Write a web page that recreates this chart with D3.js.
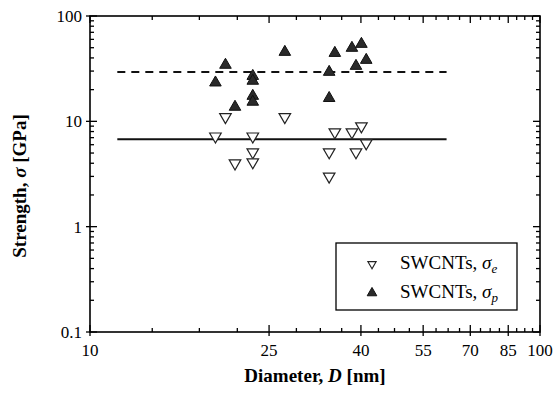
<!DOCTYPE html>
<html>
<head>
<meta charset="utf-8">
<script src="https://cdn.jsdelivr.net/npm/d3@7"></script>
<style>
  body { margin: 0; background: #fff; }
  svg { font-family: "Liberation Serif", "Times New Roman", serif; }
</style>
</head>
<body>
<svg id="chart" width="554" height="394"></svg>
<script>
// sigma_p (filled triangles)
const diamP = [19.0, 20.0, 21.0, 23.0, 23.0, 23.0, 23.0, 27.1, 34.0, 34.0, 35.0, 38.2, 39.0, 40.1, 41.1];
const strengthP = [23.3, 34.3, 13.7, 26.9, 24.2, 17.4, 15.3, 45.5, 29.4, 16.6, 44.5, 49.7, 33.5, 54.2, 38.2];
// sigma_e (open triangles)
const diamE = [19.0, 20.0, 21.0, 23.0, 23.0, 23.0, 27.1, 34.0, 34.0, 35.0, 38.2, 39.0, 40.1, 41.1];
const strengthE = [7.2, 11.0, 4.0, 7.2, 5.1, 4.1, 11.0, 5.1, 3.0, 7.9, 7.9, 5.1, 9.0, 6.2];
// average lines
const meanP = 29.4;
const meanE = 6.75;
const meanRange = [11.5, 62];

const xTicks = [10, 25, 40, 55, 70, 85, 100];
const yTicks = [0.1, 1, 10, 100];
const yTickLabels = ["0.1", "1", "10", "100"];

const margin = {left: 90, top: 16, right: 14, bottom: 62};
const width = 554 - margin.left - margin.right;
const height = 394 - margin.top - margin.bottom;

const svg = d3.select("#chart");
const g = svg.append("g").attr("transform", `translate(${margin.left},${margin.top})`);

const x = d3.scaleLog().domain([10, 100]).range([0, width]);
const y = d3.scaleLog().domain([0.1, 100]).range([height, 0]);

// minor ticks: x every quarter between majors, y 2..9 per decade
const xMinor = [];
for (let i = 0; i < xTicks.length - 1; i++) {
    const step = (xTicks[i + 1] - xTicks[i]) / 4;
    for (let k = 1; k < 4; k++) xMinor.push(xTicks[i] + k * step);
}
const yMinor = [];
[0.1, 1, 10].forEach(dec => { for (let k = 2; k < 10; k++) yMinor.push(dec * k); });

// frame
g.append("rect").attr("width", width).attr("height", height)
    .attr("fill", "none").attr("stroke", "#000").attr("stroke-width", 1.6);

const tickG = g.append("g").attr("stroke", "#000").attr("stroke-width", 1.3);
xTicks.forEach(v => {
    tickG.append("line").attr("x1", x(v)).attr("x2", x(v)).attr("y1", height + 4).attr("y2", height - 7);
    tickG.append("line").attr("x1", x(v)).attr("x2", x(v)).attr("y1", 0).attr("y2", 7);
});
xMinor.forEach(v => {
    tickG.append("line").attr("x1", x(v)).attr("x2", x(v)).attr("y1", height).attr("y2", height - 4);
    tickG.append("line").attr("x1", x(v)).attr("x2", x(v)).attr("y1", 0).attr("y2", 4);
});
yTicks.forEach(v => {
    tickG.append("line").attr("x1", -4).attr("x2", 7).attr("y1", y(v)).attr("y2", y(v));
    tickG.append("line").attr("x1", width - 7).attr("x2", width).attr("y1", y(v)).attr("y2", y(v));
});
yMinor.forEach(v => {
    tickG.append("line").attr("x1", 0).attr("x2", 4).attr("y1", y(v)).attr("y2", y(v));
    tickG.append("line").attr("x1", width - 4).attr("x2", width).attr("y1", y(v)).attr("y2", y(v));
});

// tick labels
g.selectAll(".xlab").data(xTicks).enter().append("text")
    .attr("x", d => x(d)).attr("y", height + 24)
    .attr("text-anchor", "middle").attr("font-size", 17)
    .text(d => d);
g.selectAll(".ylab").data(yTicks).enter().append("text")
    .attr("x", -8).attr("y", d => y(d) + 6)
    .attr("text-anchor", "end").attr("font-size", 17)
    .text((d, i) => yTickLabels[i]);

// axis titles
const xt = g.append("text").attr("x", width / 2).attr("y", height + 50)
    .attr("text-anchor", "middle").attr("font-size", 19).attr("font-weight", "bold");
xt.append("tspan").text("Diameter, ");
xt.append("tspan").attr("font-style", "italic").text("D");
xt.append("tspan").text(" [nm]");

const yt = g.append("text").attr("transform", `translate(-64,${height / 2 + 12}) rotate(-90)`)
    .attr("text-anchor", "middle").attr("font-size", 19).attr("font-weight", "bold");
yt.append("tspan").text("Strength, ");
yt.append("tspan").attr("font-style", "italic").text("σ");
yt.append("tspan").text(" [GPa]");

// mean lines
g.append("line").attr("x1", x(meanRange[0])).attr("x2", x(meanRange[1]))
    .attr("y1", y(meanP)).attr("y2", y(meanP))
    .attr("stroke", "#111").attr("stroke-width", 2).attr("stroke-dasharray", "8,6");
g.append("line").attr("x1", x(meanRange[0])).attr("x2", x(meanRange[1]))
    .attr("y1", y(meanE)).attr("y2", y(meanE))
    .attr("stroke", "#111").attr("stroke-width", 2);

const tri = d3.symbol(d3.symbolTriangle, 58);

g.selectAll(".pe").data(diamE.map((d, i) => [d, strengthE[i]])).enter().append("path")
    .attr("d", tri)
    .attr("transform", d => `translate(${x(d[0])},${y(d[1])}) rotate(180)`)
    .attr("fill", "#fff").attr("stroke", "#222").attr("stroke-width", 1.2);

g.selectAll(".pp").data(diamP.map((d, i) => [d, strengthP[i]])).enter().append("path")
    .attr("d", tri)
    .attr("transform", d => `translate(${x(d[0])},${y(d[1])})`)
    .attr("fill", "#2a2a2a").attr("stroke", "#111").attr("stroke-width", 1);

// legend
const lg = svg.append("g").attr("transform", "translate(336,243)");
lg.append("rect").attr("width", 181).attr("height", 67)
    .attr("fill", "#fff").attr("stroke", "#000").attr("stroke-width", 1.3);
lg.append("path").attr("d", d3.symbol(d3.symbolTriangle, 30))
    .attr("transform", "translate(36,21) rotate(180)")
    .attr("fill", "#fff").attr("stroke", "#222").attr("stroke-width", 1.1);
lg.append("path").attr("d", d3.symbol(d3.symbolTriangle, 40))
    .attr("transform", "translate(36,50)")
    .attr("fill", "#2a2a2a").attr("stroke", "#111");
const l1 = lg.append("text").attr("x", 64).attr("y", 26).attr("font-size", 19);
l1.append("tspan").text("SWCNTs, ");
l1.append("tspan").attr("font-style", "italic").text("σ");
l1.append("tspan").attr("font-style", "italic").attr("font-size", 13).attr("dy", 4).text("e");
const l2 = lg.append("text").attr("x", 64).attr("y", 55).attr("font-size", 19);
l2.append("tspan").text("SWCNTs, ");
l2.append("tspan").attr("font-style", "italic").text("σ");
l2.append("tspan").attr("font-style", "italic").attr("font-size", 13).attr("dy", 4).text("p");
</script>
</body>
</html>
